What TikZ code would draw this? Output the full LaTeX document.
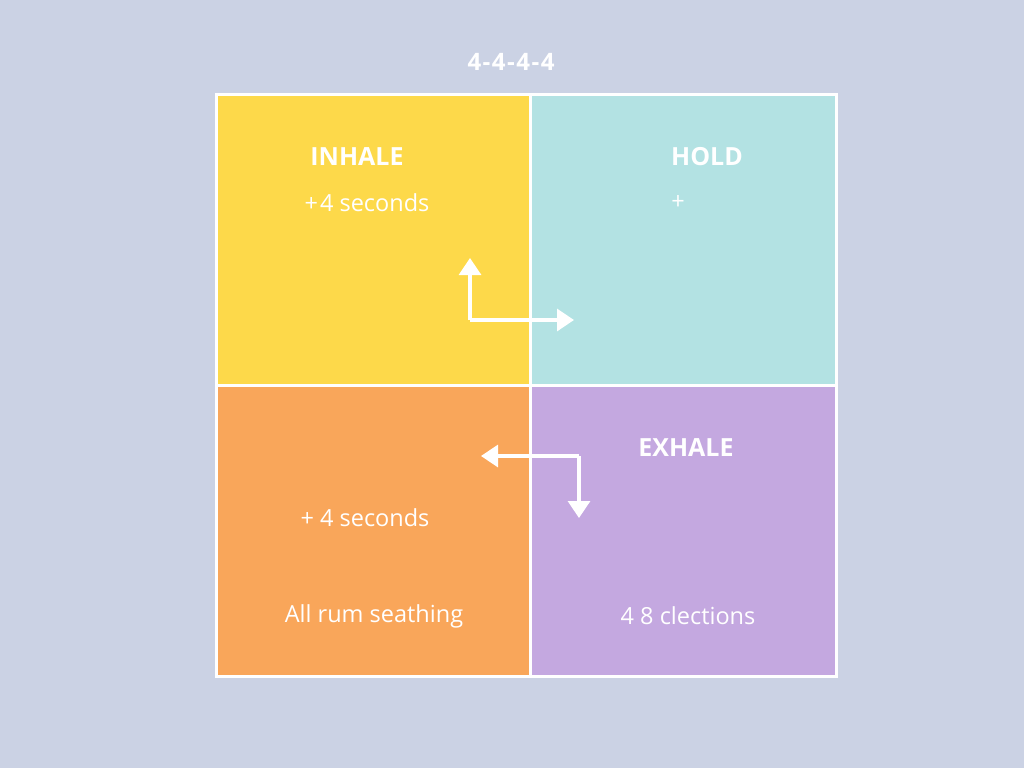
\documentclass[tikz,border=0pt]{standalone}
\usepackage{fontspec}
\setmainfont{Open Sans}
\usetikzlibrary{arrows.meta}
\definecolor{bg}{HTML}{CBD2E4}
\definecolor{qyellow}{HTML}{FDD94A}
\definecolor{qteal}{HTML}{B3E2E3}
\definecolor{qorange}{HTML}{F9A65A}
\definecolor{qpurple}{HTML}{C4A8E0}
\tikzset{
  quad/.style={draw=white, line width=3pt, minimum height=291pt, inner sep=0pt, outer sep=0pt},
  lbl/.style={text=white, font=\fontsize{23.5}{26}\selectfont},
  head/.style={text=white, font=\fontsize{25}{28}\selectfont\bfseries},
  flow/.style={draw=white, line width=3.2pt, -{Triangle[width=22pt,length=17pt]}},
}
\begin{document}
\begin{tikzpicture}[x=1pt,y=-1pt]
\fill[bg] (0,0) rectangle (1024,768);
\useasboundingbox (0,0) rectangle (1024,768);
\node[text=white, font=\fontsize{24}{27}\selectfont\bfseries] (title) at (511,62) {4\kern1.5pt-\kern1.5pt4\kern1.5pt-\kern1.5pt4\kern1.5pt-\kern1.5pt4};
\node[quad, fill=qyellow, minimum width=314pt] (inhale) at (373,239.5) {};
\node[quad, fill=qteal, minimum width=306pt] (hold) at (683,239.5) {};
\node[quad, fill=qorange, minimum width=314pt] (out) at (373,531) {};
\node[quad, fill=qpurple, minimum width=306pt] (exhale) at (683,531) {};
\node[head] (tin) at (357,157) {INHALE};
\node[lbl] (sin) at (367,203) {+\kern2pt4 seconds};
\node[head] (thold) at (707,157) {HOLD};
\node[lbl] (shold) at (678,203) {+};
\node[head] (tex) at (686,448) {EXHALE};
\node[lbl] (sout) at (365,518) {+ 4 seconds};
\node[lbl] (aout) at (374,616) {All rum seathing};
\node[lbl] (sex) at (688,616) {4 8 clections};
\coordinate (c1) at (470,320);
\coordinate (u1) at (470,258);
\coordinate (r1) at (574,320);
\coordinate (c2) at (579,456);
\coordinate (l2) at (481,456);
\coordinate (d2) at (579,518);
\draw[flow] (c1) -- (u1);
\draw[flow] (c1) -- (r1);
\draw[flow] (c2) -- (l2);
\draw[flow] (c2) -- (d2);
\end{tikzpicture}
\end{document}
